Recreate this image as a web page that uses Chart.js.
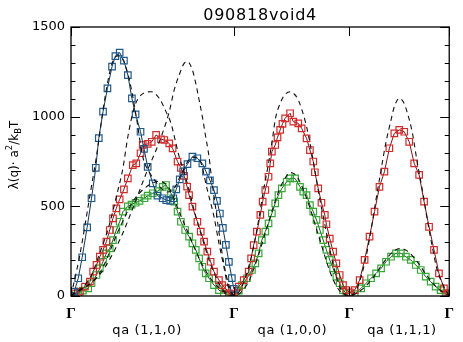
<!DOCTYPE html>
<html><head><meta charset="utf-8">
<script src="https://cdn.jsdelivr.net/npm/chart.js@4.4.0/dist/chart.umd.min.js"></script>
<style>html,body{margin:0;padding:0;background:#fff}#wrap{width:463px;height:342px}</style>
</head><body><div id="wrap"><canvas id="c" width="463" height="342"></canvas></div>
<script>
// ---- path positions (q along Γ→(1,1,0)→Γ, Γ→(1,0,0)→Γ, Γ→(1,1,1)→Γ) ----
const GAMMA = [0, 1.414, 2.414, 3.280];
const gammaLabels = ['Γ', 'Γ', 'Γ', 'Γ'];
const segmentLabels = ['qa (1,1,0)', 'qa (1,0,0)', 'qa (1,1,1)'];
const segmentLabelQ = [0.66, 1.92, 2.87];
const yTicks = [0, 500, 1000, 1500];
const yMinorStep = 100;
const titleText = '090818void4';

// ---- measured branches ----
const blueQ = [0,.028,.063,.097,.140,.178,.215,.241,.278,.316,.356,.385,.422,.459,.493,.528,.560,.603,.633,.665,.709,.749,.795,.826,.861,.887,.913,.943,.973,1.010,1.053,1.096,1.139,1.171,1.205,1.240,1.266,1.291,1.317,1.343,1.369,1.395,1.412];
const blueL = [0,24,99,216,383,545,715,880,1028,1158,1279,1338,1357,1312,1232,1102,1013,916,820,720,628,560,545,535,530,545,595,650,695,735,777,768,740,693,645,590,530,460,380,285,190,100,40];

const redQ = [0,.034,.077,.121,.164,.192,.221,.250,.278,.307,.336,.364,.393,.422,.459,.493,.536,.566,.603,.622,.665,.700,.738,.781,.809,.852,.881,.924,.953,.981,1.007,1.024,1.053,1.096,1.125,1.154,1.182,1.211,1.240,1.283,1.311,1.340,1.369,1.397,
  1.412,1.455,1.498,1.541,1.562,1.584,1.612,1.642,1.662,1.685,1.713,1.728,1.742,1.771,1.791,1.814,1.834,1.857,1.900,1.928,1.971,2.000,2.043,2.072,2.101,2.115,2.144,2.172,2.201,2.215,2.244,2.273,2.301,2.330,2.359,2.387,2.419,
  2.460,2.503,2.546,2.589,2.632,2.675,2.718,2.761,2.804,2.847,2.890,2.933,2.976,3.019,3.062,3.105,3.148,3.191,3.234,3.263,3.280];
const redL = [0,15,24,52,80,136,173,219,257,303,368,433,489,539,595,656,730,740,796,842,848,860,898,874,870,851,823,749,715,670,610,563,498,414,359,303,247,191,136,89,61,43,15,5,
  10,52,89,136,210,284,359,452,526,591,665,740,805,842,885,926,960,991,1019,972,963,935,879,814,750,690,600,520,452,400,320,247,182,117,61,33,20,
  33,89,201,331,470,609,693,824,907,926,916,860,740,675,526,386,257,126,43,15,5];

const greenQ = [0,.063,.103,.149,.178,.221,.250,.278,.307,.336,.364,.393,.422,.450,.493,.525,.560,.594,.637,.665,.709,.752,.795,.824,.867,.895,.924,.953,.990,1.024,1.053,1.082,1.111,1.139,1.168,1.197,1.240,1.283,1.326,1.369,1.412,
  1.455,1.483,1.526,1.569,1.599,1.627,1.655,1.685,1.713,1.742,1.771,1.799,1.828,1.871,1.900,1.943,1.986,2.014,2.043,2.072,2.101,2.129,2.158,2.187,2.215,2.244,2.273,2.301,2.330,2.359,2.387,2.414,
  2.460,2.516,2.559,2.602,2.646,2.689,2.732,2.775,2.818,2.861,2.904,2.947,2.990,3.033,3.076,3.119,3.162,3.205,3.248,3.280];
const greenL = [0,15,30,43,71,117,154,191,238,266,312,368,414,470,500,510,520,530,545,560,573,585,609,619,573,526,470,414,368,331,294,257,210,163,126,99,61,33,15,5,0,
  30,61,99,145,182,238,312,359,405,461,517,563,600,637,656,656,609,582,563,507,470,424,368,312,257,201,154,108,71,33,15,0,
  10,43,71,99,126,154,191,219,238,238,219,201,173,145,108,80,52,33,15,0];

// ---- theory branches (dashed) ----
const theoryAQ = [0,.077,.164,.221,.293,.353,.405,.456,.508,.566,.622,.680,.732,.783,.835,.895,.956,1.024,1.076,1.128,1.179,1.240,1.283,1.326,1.354,1.395,1.412];
const theoryAL = [0,230,560,780,1100,1290,1340,1310,1200,1000,777,690,640,600,580,600,680,760,775,740,600,442,294,163,71,10,0];

const theoryBQ = [0,.164,.250,.336,.393,.450,.493,.551,.609,.695,.766,.824,.867,.910,.938,.981,1.024,1.067,1.111,1.154,1.197,1.240,1.283,1.326,1.412,
  1.481,1.541,1.584,1.627,1.670,1.713,1.748,1.773,1.814,1.851,1.900,1.937,1.971,2.029,2.058,2.115,2.158,2.201,2.244,2.301,2.344,2.414,
  2.473,2.516,2.559,2.602,2.643,2.689,2.729,2.775,2.806,2.847,2.884,2.918,2.961,3.004,3.047,3.090,3.133,3.176,3.234,3.280];
const theoryBL = [0,100,240,405,554,712,888,1056,1121,1139,1102,1028,963,851,777,690,590,480,380,290,200,130,70,30,0,
  50,163,275,424,591,740,880,990,1074,1120,1139,1125,1093,980,900,700,540,400,260,108,33,0,
  33,108,219,368,530,703,850,981,1060,1102,1080,1019,907,740,591,424,275,145,52,0];

const theoryCQ = [0,.250,.422,.536,.652,.766,.852,.895,.938,.981,1.010,1.053,1.082,1.111,1.139,1.168,1.197,1.222,1.257,1.291,1.326,1.360,1.395,1.412];
const theoryCL = [0,120,312,489,684,860,1028,1149,1232,1297,1306,1260,1186,1093,1000,888,777,640,480,320,180,80,20,0];

const theoryGQ = [0,.250,.422,.551,.680,.766,.852,.938,1.024,1.111,1.197,1.283,1.412,
  1.455,1.541,1.584,1.627,1.670,1.713,1.756,1.799,1.842,1.903,1.955,1.997,2.040,2.083,2.126,2.169,2.212,2.255,2.298,2.350,2.414,
  2.530,2.617,2.703,2.789,2.850,2.918,3.004,3.090,3.176,3.280];
const theoryGL = [0,130,380,540,620,640,600,470,340,210,110,45,0,
  10,80,150,230,320,410,500,580,640,688,670,620,550,470,380,290,200,120,60,15,0,
  40,100,180,245,265,250,190,110,45,0];

const pts = (q, l) => q.map((v, i) => ({x: v, y: l[i]}));

function measured(q, l, mark, line) {
  return {data: pts(q, l), showLine: true, borderColor: line, borderWidth: 1,
    pointStyle: 'rect', pointRadius: 4.6, pointBorderColor: mark, pointBackgroundColor: 'rgba(0,0,0,0)',
    pointBorderWidth: 1.2, tension: 0, order: 2};
}
function theory(q, l) {
  return {data: pts(q, l), showLine: true, borderColor: '#111', borderWidth: 1.1,
    borderDash: [5, 4], pointRadius: 0, tension: 0.35, cubicInterpolationMode: 'monotone', order: 1};
}

const deco = {
  id: 'deco',
  beforeDraw(chart) {
    const c = chart.ctx; c.save(); c.fillStyle = '#fff'; c.fillRect(0, 0, chart.width, chart.height); c.restore();
  },
  afterDraw(chart) {
    const {ctx, chartArea: a, scales: {x, y}} = chart;
    ctx.save();
    ctx.strokeStyle = '#000'; ctx.lineWidth = 1.3;
    ctx.strokeRect(a.left, a.top, a.right - a.left, a.bottom - a.top);
    ctx.lineWidth = 1;
    for (let v = 0; v <= 1500; v += yMinorStep) {
      const py = Math.round(y.getPixelForValue(v)) + 0.5;
      const len = (yTicks.includes(v)) ? 9 : 4.5;
      ctx.beginPath();
      ctx.moveTo(a.left, py); ctx.lineTo(a.left + len, py);
      ctx.moveTo(a.right, py); ctx.lineTo(a.right - len, py);
      ctx.stroke();
    }
    GAMMA.forEach(g => {
      const px = Math.round(x.getPixelForValue(g)) + 0.5;
      ctx.beginPath();
      ctx.moveTo(px, a.top); ctx.lineTo(px, a.top + 9);
      ctx.moveTo(px, a.bottom); ctx.lineTo(px, a.bottom - 9);
      ctx.stroke();
    });
    // title
    ctx.fillStyle = '#000';
    ctx.font = '16px "DejaVu Sans"';
    ctx.letterSpacing = '0.8px';
    ctx.textAlign = 'center'; ctx.textBaseline = 'alphabetic';
    ctx.fillText(titleText, (a.left + a.right) / 2, 19.5);
    // segment labels
    ctx.font = '13px "DejaVu Sans"';
    ctx.letterSpacing = '0.6px';
    segmentLabels.forEach((t, i) => {
      ctx.fillText(t, x.getPixelForValue(segmentLabelQ[i]), 334);
    });
    ctx.letterSpacing = '0px';
    // y axis title with super/subscript
    const parts = [
      {t: 'λ(q)· a', f: '12px "DejaVu Sans"', dy: 0},
      {t: '2', f: '8.5px "DejaVu Sans"', dy: -6},
      {t: '/k', f: '12px "DejaVu Sans"', dy: 0},
      {t: 'B', f: '8.5px "DejaVu Sans"', dy: 3},
      {t: 'T', f: '12px "DejaVu Sans"', dy: 0}
    ];
    let total = 0;
    parts.forEach(p => { ctx.font = p.f; p.w = ctx.measureText(p.t).width; total += p.w; });
    ctx.translate(17.5, 155);
    ctx.rotate(-Math.PI / 2);
    ctx.textAlign = 'left';
    let cx = -total / 2;
    parts.forEach(p => { ctx.font = p.f; ctx.fillText(p.t, cx, p.dy); cx += p.w; });
    ctx.restore();
  }
};

new Chart(document.getElementById('c'), {
  type: 'scatter',
  data: {datasets: [
    theory(theoryAQ, theoryAL),
    theory(theoryBQ, theoryBL),
    theory(theoryCQ, theoryCL),
    theory(theoryGQ, theoryGL),
    measured(blueQ, blueL, '#1f5a8c', '#123556'),
    measured(redQ, redL, '#d42a2a', '#7a1414'),
    measured(greenQ, greenL, '#35a835', '#1c5e1c')
  ]},
  options: {
    responsive: false, animation: false, devicePixelRatio: 1,
    layout: {padding: {top: 27, right: 11, left: 0, bottom: 0}},
    plugins: {legend: {display: false}, tooltip: {enabled: false}, title: {display: false}},
    scales: {
      x: {type: 'linear', min: GAMMA[0], max: GAMMA[3],
        grid: {display: false, drawTicks: false, tickLength: 0}, border: {display: false},
        afterBuildTicks: s => { s.ticks = GAMMA.map(v => ({value: v})); },
        afterFit: s => { s.height = 46; },
        ticks: {autoSkip: false, maxRotation: 0, padding: 9, color: '#000',
          font: {family: '"Liberation Serif"', size: 15, weight: 'bold'},
          callback: (v, i) => gammaLabels[i]}
      },
      y: {type: 'linear', min: 0, max: 1500,
        grid: {display: false, drawTicks: false, tickLength: 0}, border: {display: false},
        afterBuildTicks: s => { s.ticks = yTicks.map(v => ({value: v})); },
        afterFit: s => { s.width = 71; },
        ticks: {padding: 6, color: '#000', font: {family: '"DejaVu Sans"', size: 13},
          callback: v => String(v)}
      }
    }
  },
  plugins: [deco]
});
</script>
</body></html>
